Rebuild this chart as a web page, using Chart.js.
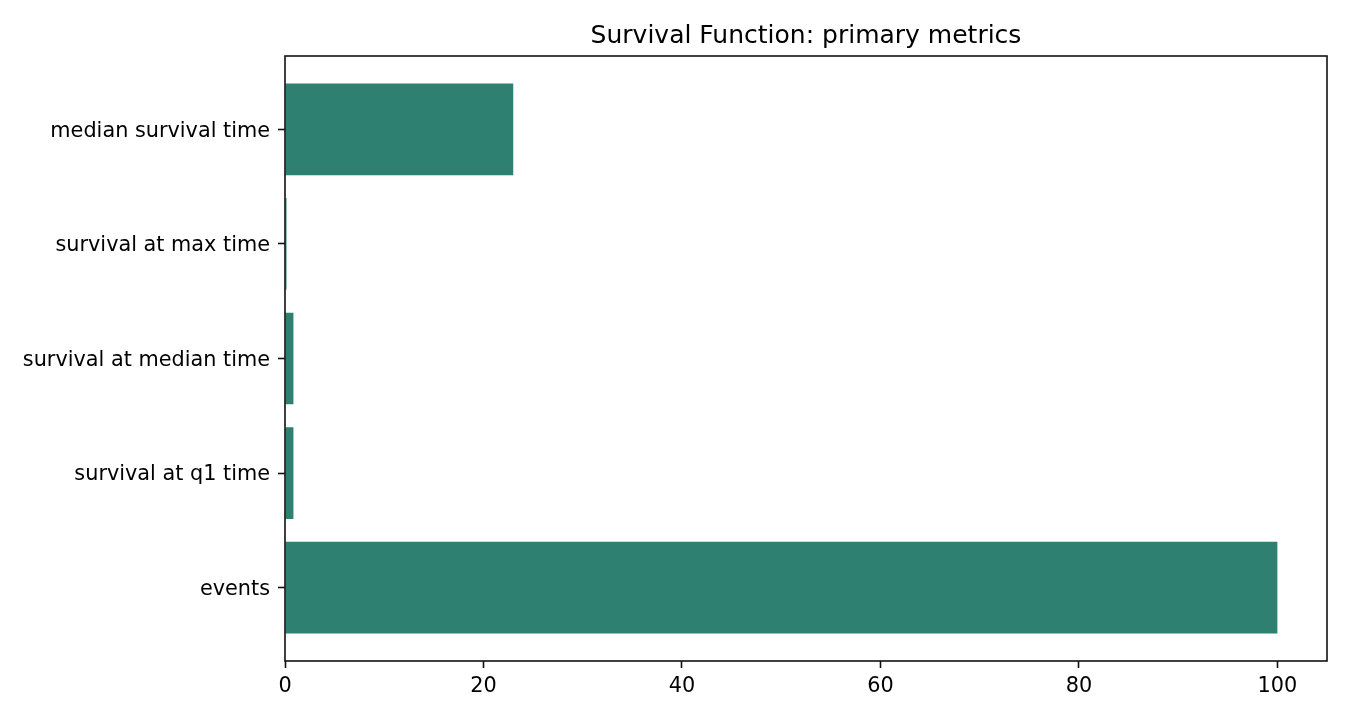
<!DOCTYPE html>
<html>
<head>
<meta charset="utf-8">
<script src="https://cdn.jsdelivr.net/npm/chart.js@4.4.0/dist/chart.umd.min.js"></script>
<style>
  html, body { margin: 0; padding: 0; background: #fff; }
  #wrap { width: 1350px; height: 720px; }
</style>
</head>
<body>
<div id="wrap"><canvas id="chart"></canvas></div>
<script>
var metricNames = ["median survival time", "survival at max time", "survival at median time", "survival at q1 time", "events"];
var metricValues = [23, 0.15, 0.85, 0.85, 100];
var xTicks = [0, 20, 40, 60, 80, 100];
var chartTitle = "Survival Function: primary metrics";

var barColor = "#2e8070";
var inkColor = "#111111";

// matplotlib style full box around the plot area, title centred over it
var frame = {
  id: "frame",
  afterLayout: function (chart) {
    var a = chart.chartArea;
    if (chart.titleBlock) {
      chart.titleBlock.left = a.left;
      chart.titleBlock.right = a.right;
      chart.titleBlock.width = a.right - a.left;
    }
  },
  afterDatasetsDraw: function (chart) {
    var a = chart.chartArea;
    var ctx = chart.ctx;
    ctx.save();
    ctx.strokeStyle = inkColor;
    ctx.lineWidth = 1.6;
    ctx.strokeRect(a.left, a.top, a.right - a.left, a.bottom - a.top);
    ctx.restore();
  }
};

Chart.defaults.font.family = "'DejaVu Sans', sans-serif";
Chart.defaults.color = "#000";

var points = [];
for (var i = 0; i < metricNames.length; i++) {
  points.push({ x: metricValues[i], y: i });
}

new Chart(document.getElementById("chart").getContext("2d"), {
  type: "bar",
  data: {
    datasets: [{
      data: points,
      backgroundColor: barColor,
      borderWidth: 0,
      barPercentage: 0.8,
      categoryPercentage: 1
    }]
  },
  options: {
    indexAxis: "y",
    responsive: true,
    maintainAspectRatio: false,
    animation: false,
    layout: { padding: { left: 0, right: 23, top: 0, bottom: 0 } },
    plugins: {
      legend: { display: false },
      tooltip: { enabled: false },
      title: {
        display: true,
        text: chartTitle,
        color: "#000",
        font: { size: 25, weight: "normal" },
        padding: { top: 21, bottom: 5 }
      }
    },
    scales: {
      x: {
        type: "linear",
        min: 0,
        max: 105,
        grid: { drawOnChartArea: false, drawTicks: true, tickLength: 7, tickColor: inkColor, tickWidth: 1.6 },
        border: { display: false },
        ticks: { font: { size: 20.8 }, color: "#000", padding: 6, maxRotation: 0 },
        afterBuildTicks: function (scale) {
          scale.ticks = xTicks.map(function (v) { return { value: v }; });
        },
        afterFit: function (scale) { scale.height = 59; }
      },
      y: {
        type: "linear",
        reverse: true,
        offset: false,
        min: -0.64,
        max: metricNames.length - 1 + 0.64,
        grid: { offset: false, drawOnChartArea: false, drawTicks: true, tickLength: 7, tickColor: inkColor, tickWidth: 1.6 },
        border: { display: false },
        ticks: {
          font: { size: 20.8 },
          color: "#000",
          padding: 8,
          labelOffset: 2,
          callback: function (v) { return metricNames[v]; }
        },
        afterBuildTicks: function (scale) {
          scale.ticks = metricNames.map(function (n, i) { return { value: i }; });
        },
        afterFit: function (scale) { scale.width = 285; }
      }
    }
  },
  plugins: [frame]
});
</script>
</body>
</html>
